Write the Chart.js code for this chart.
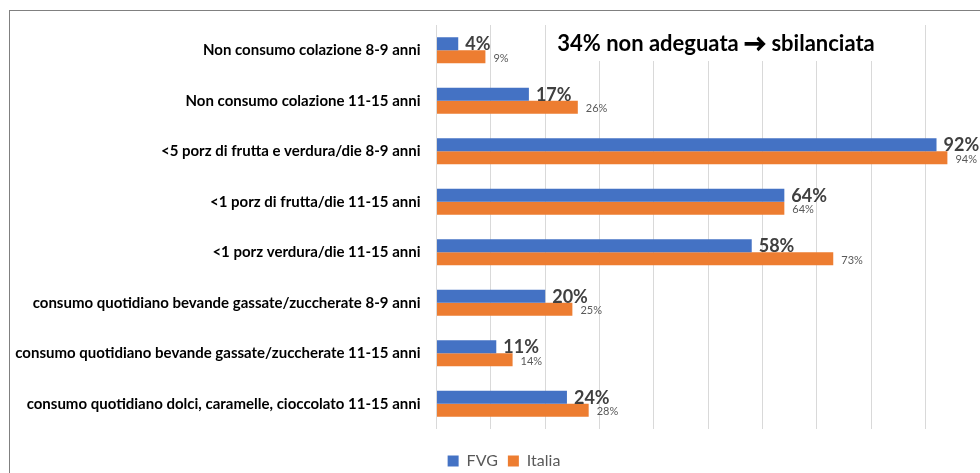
<!DOCTYPE html>
<html>
<head>
<meta charset="utf-8">
<script src="https://cdn.jsdelivr.net/npm/chart.js@4/dist/chart.umd.min.js"></script>
<style>
    html, body { margin: 0; padding: 0; background: #ffffff; overflow: hidden; }
    #frame {
        position: absolute; left: 9px; top: 10px;
        width: 1200px; height: 600px;
        border: 1px solid #808080;
    }
    #wrap { position: absolute; left: 0; top: 0; width: 980px; height: 479px; }
</style>
</head>
<body>
<div id="frame"></div>
<div id="wrap"><canvas id="chart"></canvas></div>
<script>
const categories = [
    'Non consumo colazione 8-9 anni',
    'Non consumo colazione 11-15 anni',
    '<5 porz di frutta e verdura/die 8-9 anni',
    '<1 porz di frutta/die 11-15 anni',
    '<1 porz verdura/die 11-15 anni',
    'consumo quotidiano bevande gassate/zuccherate 8-9 anni',
    'consumo quotidiano bevande gassate/zuccherate 11-15 anni',
    'consumo quotidiano dolci, caramelle, cioccolato 11-15 anni'
];
const fvgValues = [4, 17, 92, 64, 58, 20, 11, 24];
const italiaValues = [9, 26, 94, 64, 73, 25, 14, 28];
const titleParts = ['34% non adeguata ', '\u2192', ' sbilanciata'];

const blue = '#4472C4';
const orange = '#ED7D31';

// etichette dei valori a destra delle barre
const valueLabels = {
    id: 'valueLabels',
    afterDatasetsDraw(chart) {
        const ctx = chart.ctx;
        ctx.save();
        chart.data.datasets.forEach((ds, di) => {
            const meta = chart.getDatasetMeta(di);
            meta.data.forEach((bar, i) => {
                const txt = ds.data[i] + '%';
                ctx.textBaseline = 'middle';
                ctx.textAlign = 'left';
                if (di === 0) {
                    ctx.font = 'bold 18px Lato';
                    ctx.fillStyle = '#404040';
                    ctx.fillText(txt, bar.x + 7, bar.y + 0.5);
                } else {
                    ctx.font = '11px Lato';
                    ctx.fillStyle = '#595959';
                    ctx.fillText(txt, bar.x + 8, bar.y + 1.5);
                }
            });
        });
        ctx.restore();
    }
};

// riquadro del titolo con sfondo bianco sopra la griglia
const titleBox = {
    id: 'titleBox',
    afterDraw(chart) {
        const ctx = chart.ctx;
        ctx.save();
        ctx.fillStyle = '#ffffff';
        ctx.fillRect(549, 24, 350, 37);
        ctx.font = 'bold 22px Lato';
        ctx.fillStyle = '#000000';
        ctx.strokeStyle = '#000000';
        ctx.textAlign = 'left';
        ctx.textBaseline = 'middle';
        const widths = titleParts.map(t => ctx.measureText(t).width);
        let x = 716 - widths.reduce((a, b) => a + b, 0) / 2;
        titleParts.forEach((t, i) => {
            ctx.fillText(t, x, 44);
            if (i === 1) {
                // freccia più marcata come nell'originale
                ctx.lineWidth = 1.2;
                ctx.strokeText(t, x, 44);
            }
            x += widths[i];
        });
        ctx.restore();
    }
};

// la legenda è centrata sul riquadro del grafico, non sul canvas
const legendShift = {
    id: 'legendShift',
    afterLayout(chart) {
        if (chart.legend) chart.legend.left = 28;
    }
};

function draw() {
    Chart.defaults.font.family = 'Lato';

    new Chart(document.getElementById('chart'), {
        type: 'bar',
        data: {
            labels: categories,
            datasets: [
                { label: 'FVG', data: fvgValues, backgroundColor: blue, borderWidth: 0 },
                { label: 'Italia', data: italiaValues, backgroundColor: orange, borderWidth: 0 }
            ]
        },
        options: {
            indexAxis: 'y',
            responsive: true,
            maintainAspectRatio: false,
            animation: false,
            categoryPercentage: 0.51,
            barPercentage: 1,
            layout: { padding: { left: 0, right: 0, top: 25, bottom: 0 } },
            scales: {
                x: {
                    min: 0,
                    max: 100,
                    ticks: { display: false, stepSize: 10 },
                    grid: { color: '#d9d9d9', drawTicks: false },
                    border: { display: false },
                    afterFit(scale) { scale.height = 14; }
                },
                y: {
                    ticks: {
                        color: '#000000',
                        padding: 16,
                        font: { size: 15, weight: 'bold' }
                    },
                    grid: { display: false, drawTicks: false },
                    border: { display: false },
                    afterFit(scale) { scale.width = 436.5; }
                }
            },
            plugins: {
                legend: {
                    position: 'bottom',
                    labels: {
                        boxWidth: 11,
                        boxHeight: 11,
                        padding: 10,
                        color: '#595959',
                        font: { size: 16 }
                    }
                },
                tooltip: { enabled: false }
            }
        },
        plugins: [valueLabels, titleBox, legendShift]
    });
}

Promise.all([
    document.fonts.load('bold 18px Lato'),
    document.fonts.load('16px Lato'),
    document.fonts.load('bold 22px Lato')
]).then(draw, draw);
</script>
</body>
</html>
